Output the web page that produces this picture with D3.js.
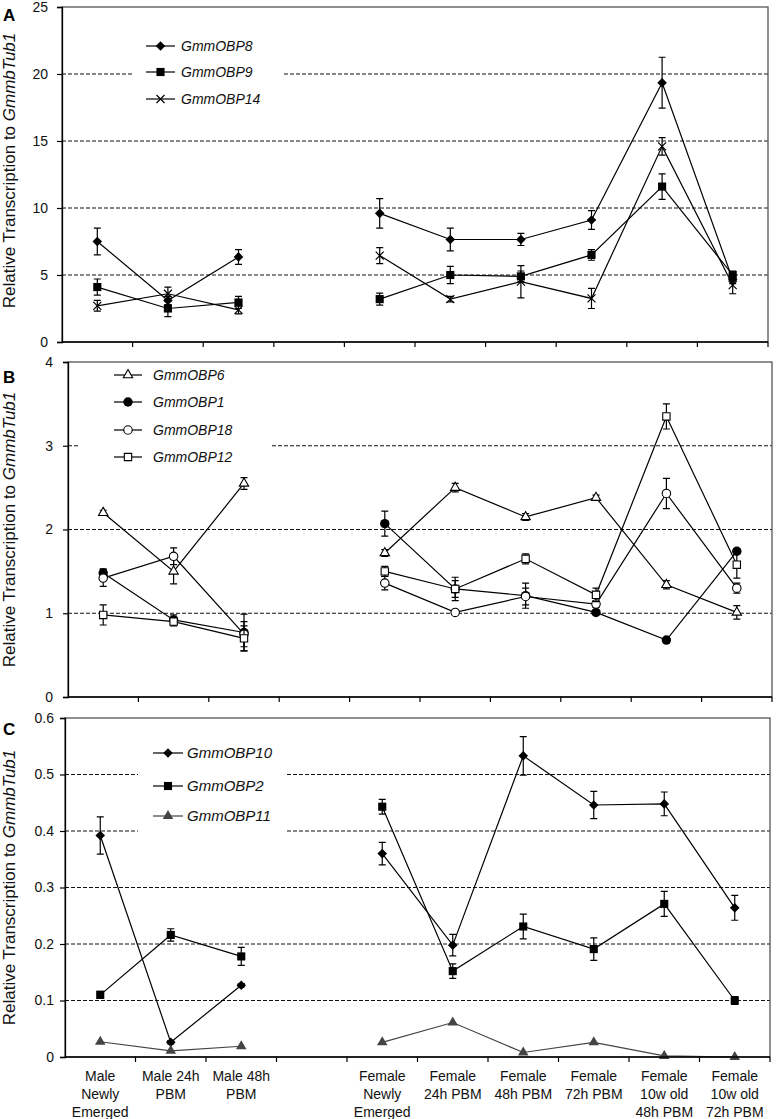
<!DOCTYPE html>
<html><head><meta charset="utf-8">
<script src="https://cdn.jsdelivr.net/npm/d3@7"></script>
<style>body{margin:0;background:#fff}svg{display:block}</style>
</head><body><svg id="chart" width="777" height="1119"></svg>
<script>
// ---------- data ----------
const categories = ["MaleNE","Male24","Male48","gap","FemNE","Fem24","Fem48","Fem72","Fem10w48","Fem10w72"];
const xLabels = [["Male","Newly","Emerged"],["Male 24h","PBM"],["Male 48h","PBM"],[],["Female","Newly","Emerged"],["Female","24h PBM"],["Female","48h PBM"],["Female","72h PBM"],["Female","10w old","48h PBM"],["Female","10w old","72h PBM"]];

// Panel A
const obp8  = [7.5, 3.1, 6.35, null, 9.6, 7.65, 7.65, 9.1, 19.35, 4.65];
const obp8Err = [1.0, 0.3, 0.55, null, 1.1, 0.85, 0.45, 0.7, 1.9, 0.3];
const obp9  = [4.1, 2.5, 2.95, null, 3.2, 5.0, 4.9, 6.5, 11.6, 5.0];
const obp9Err = [0.6, 0.6, 0.45, null, 0.45, 0.65, 0.4, 0.4, 0.95, 0.3];
const obp14 = [2.7, 3.6, 2.4, null, 6.45, 3.2, 4.5, 3.25, 14.6, 4.25];
const obp14Err = [0.4, 0.5, 0.3, null, 0.6, 0.2, 1.2, 0.75, 0.65, 0.65];
const ticksA = [0, 5, 10, 15, 20, 25];

// Panel B
const obp6  = [2.2, 1.5, 2.55, null, 1.72, 2.5, 2.15, 2.38, 1.34, 1.01];
const obp6Err = [0.03, 0.15, 0.07, null, 0.04, 0.05, 0.04, 0.03, 0.05, 0.08];
const obp1  = [1.48, 0.92, 0.77, null, 2.07, 1.29, 1.21, 1.01, 0.68, 1.74];
const obp1Err = [0.05, 0.06, 0.22, null, 0.15, 0.14, 0.15, 0.02, 0.03, 0.03];
const obp18 = [1.42, 1.68, 0.75, null, 1.36, 1.01, 1.2, 1.11, 2.43, 1.3];
const obp18Err = [0.1, 0.1, 0.15, null, 0.08, 0.02, 0.1, 0.04, 0.18, 0.06];
const obp12 = [0.98, 0.9, 0.7, null, 1.5, 1.29, 1.65, 1.22, 3.35, 1.58];
const obp12Err = [0.12, 0.05, 0.15, null, 0.06, 0.1, 0.06, 0.08, 0.15, 0.16];
const ticksB = [0, 1, 2, 3, 4];

// Panel C
const obp10 = [0.392, 0.026, 0.127, null, 0.36, 0.198, 0.533, 0.446, 0.448, 0.264];
const obp10Err = [0.033, 0.003, 0.003, null, 0.02, 0.019, 0.034, 0.024, 0.021, 0.022];
const obp2  = [0.11, 0.216, 0.178, null, 0.443, 0.152, 0.231, 0.191, 0.271, 0.1];
const obp2Err = [0.006, 0.011, 0.016, null, 0.013, 0.013, 0.022, 0.02, 0.022, 0.007];
const obp11 = [0.027, 0.011, 0.019, null, 0.026, 0.061, 0.008, 0.026, 0.002, 0.0];
const ticksC = [0, 0.1, 0.2, 0.3, 0.4, 0.5, 0.6];

// ---------- layout / style ----------
const panels = [
  { letter:"A", letterY:21, l:62, t:7, r:768, b:342, ticks:ticksA, fmt:d=>String(d), pad:9, titleShift:-4,
    series:[
      {name:"GmmOBP8", vals:obp8, err:obp8Err, sym:"diamond", color:"#000"},
      {name:"GmmOBP9", vals:obp9, err:obp9Err, sym:"square", color:"#000"},
      {name:"GmmOBP14", vals:obp14, err:obp14Err, sym:"x", color:"#000"}],
    legend:{x0:132, x1:283, y0:33, y1:112, ys:[46,72,99], lx0:146, lx1:175, tx:181, fs:14}},
  { letter:"B", letterY:383, l:68, t:362, r:772, b:697, ticks:ticksB, fmt:d=>String(d), pad:10, titleShift:0,
    series:[
      {name:"GmmOBP6", vals:obp6, err:obp6Err, sym:"triOpen", color:"#000"},
      {name:"GmmOBP1", vals:obp1, err:obp1Err, sym:"circle", color:"#000"},
      {name:"GmmOBP18", vals:obp18, err:obp18Err, sym:"circleOpen", color:"#000"},
      {name:"GmmOBP12", vals:obp12, err:obp12Err, sym:"squareOpen", color:"#000"}],
    legend:{x0:80, x1:270, y0:364, y1:468, ys:[375,402,430,457], lx0:114, lx1:142, tx:153, fs:14}},
  { letter:"C", letterY:735, l:65, t:718, r:770, b:1057, ticks:ticksC, fmt:d=>d===0?"0":d3.format(".1f")(d), pad:6, titleShift:0,
    series:[
      {name:"GmmOBP10", vals:obp10, err:obp10Err, sym:"diamond", color:"#000"},
      {name:"GmmOBP2", vals:obp2, err:obp2Err, sym:"square", color:"#000"},
      {name:"GmmOBP11", vals:obp11, err:null, sym:"triangle", color:"#444"}],
    legend:{x0:138, x1:287, y0:737, y1:834, ys:[753,786,816], lx0:153, lx1:183, tx:187, fs:15}}
];

const svg = d3.select("#chart");
const font = "Liberation Sans, Arial, Helvetica, sans-serif";

function drawSymbol(g, type, x, y, color) {
  const s = g.append("path").attr("transform", `translate(${x},${y})`);
  if (type === "diamond") {
    s.attr("d", d3.symbol(d3.symbolSquare, 46)()).attr("transform", `translate(${x},${y}) rotate(45)`).attr("fill", color);
  } else if (type === "square") {
    s.attr("d", d3.symbol(d3.symbolSquare, 66)()).attr("fill", color);
  } else if (type === "squareOpen") {
    s.attr("d", d3.symbol(d3.symbolSquare, 54)()).attr("fill", "#fff").attr("stroke", color).attr("stroke-width", 1.1);
  } else if (type === "circle") {
    s.attr("d", d3.symbol(d3.symbolCircle, 70)()).attr("fill", color);
  } else if (type === "circleOpen") {
    s.attr("d", d3.symbol(d3.symbolCircle, 56)()).attr("fill", "#fff").attr("stroke", color).attr("stroke-width", 1.1);
  } else if (type === "triOpen") {
    s.attr("d", d3.symbol(d3.symbolTriangle, 38)()).attr("fill", "#fff").attr("stroke", color).attr("stroke-width", 1.1);
  } else if (type === "triangle") {
    s.attr("d", d3.symbol(d3.symbolTriangle, 48)()).attr("fill", color);
  } else if (type === "x") {
    s.attr("d", "M-4,-4L4,4M-4,4L4,-4").attr("fill", "none").attr("stroke", color).attr("stroke-width", 1.2);
  }
}

panels.forEach((p, pi) => {
  const g = svg.append("g");
  const x = d3.scaleBand().domain(categories).range([p.l, p.r]).padding(0);
  const y = d3.scaleLinear().domain([p.ticks[0], p.ticks[p.ticks.length-1]]).range([p.b, p.t]);
  const cx = c => x(c) + x.bandwidth()/2;

  // gridlines
  g.selectAll("line.grid").data(p.ticks.slice(1, -1)).join("line")
    .attr("x1", p.l).attr("x2", p.r).attr("y1", d => y(d)).attr("y2", d => y(d))
    .attr("stroke", "#111").attr("stroke-width", 1).attr("stroke-dasharray", "4,2");

  // legend background
  const L = p.legend;
  g.append("rect").attr("x", L.x0).attr("y", L.y0).attr("width", L.x1 - L.x0).attr("height", L.y1 - L.y0).attr("fill", "#fff");

  // frame
  g.append("rect").attr("x", p.l).attr("y", p.t).attr("width", p.r - p.l).attr("height", p.b - p.t)
    .attr("fill", "none").attr("stroke", "#555").attr("stroke-width", 1.3);

  // series
  p.series.forEach(s => {
    const pts = categories.map((c, i) => ({c, v: s.vals[i], e: s.err ? s.err[i] : null}));
    const line = d3.line().defined(d => d.v !== null).x(d => cx(d.c)).y(d => y(d.v));
    g.append("path").attr("d", line(pts)).attr("fill", "none").attr("stroke", s.color).attr("stroke-width", 1.2);
    pts.filter(d => d.v !== null && d.e).forEach(d => {
      const xx = cx(d.c), y1 = y(d.v + d.e), y0 = y(d.v - d.e);
      g.append("path").attr("d", `M${xx},${y0}V${y1}M${xx-3.5},${y0}H${xx+3.5}M${xx-3.5},${y1}H${xx+3.5}`)
        .attr("stroke", s.color).attr("stroke-width", 1.2).attr("fill", "none");
    });
    pts.filter(d => d.v !== null).forEach(d => drawSymbol(g, s.sym, cx(d.c), y(d.v), s.color));
  });

  // legend entries
  p.series.forEach((s, i) => {
    const ly = L.ys[i];
    g.append("line").attr("x1", L.lx0).attr("x2", L.lx1).attr("y1", ly).attr("y2", ly).attr("stroke", s.color).attr("stroke-width", 1.2);
    drawSymbol(g, s.sym, (L.lx0 + L.lx1)/2, ly, s.color);
    g.append("text").attr("x", L.tx).attr("y", ly).attr("dy", "0.35em").attr("font-family", font)
      .attr("font-size", L.fs).attr("font-style", "italic").attr("fill", "#111").text(s.name);
  });

  // y axis
  const ya = d3.axisLeft(y).tickValues(p.ticks).tickFormat(p.fmt).tickSize(5).tickPadding(p.pad);
  const yg = g.append("g").attr("transform", `translate(${p.l},0)`).call(ya);
  yg.select(".domain").attr("stroke", "#000").attr("stroke-width", 1.3);
  yg.selectAll(".tick line").attr("stroke", "#000").attr("stroke-width", 1.2);
  yg.selectAll(".tick text").attr("font-family", font).attr("font-size", 14).attr("fill", "#111");

  // x axis: ticks at category boundaries
  const bounds = categories.map(c => x(c) + x.bandwidth());
  g.append("line").attr("x1", p.l).attr("x2", p.r).attr("y1", p.b).attr("y2", p.b).attr("stroke", "#000").attr("stroke-width", 1.3);
  g.selectAll("line.xt").data(bounds).join("line")
    .attr("x1", d => d).attr("x2", d => d).attr("y1", p.b).attr("y2", p.b + 5)
    .attr("stroke", "#000").attr("stroke-width", 1.2);

  // panel letter
  g.append("text").attr("x", 3).attr("y", p.letterY).attr("font-family", font).attr("font-weight", "bold")
    .attr("font-size", 17).attr("fill", "#000").text(p.letter);

  // y title
  const yt = g.append("text").attr("transform", `translate(15,${(p.t + p.b)/2 + p.titleShift}) rotate(-90)`)
    .attr("text-anchor", "middle").attr("font-family", font).attr("font-size", 17).attr("fill", "#111");
  yt.append("tspan").text("Relative Transcription to ");
  yt.append("tspan").attr("font-style", "italic").text("GmmbTub1");

  // x labels (bottom panel only)
  if (pi === panels.length - 1) {
    categories.forEach((c, i) => {
      const t = g.append("text").attr("x", cx(c)).attr("y", p.b + 24).attr("text-anchor", "middle")
        .attr("font-family", font).attr("font-size", 14).attr("fill", "#111");
      xLabels[i].forEach((ln, j) => t.append("tspan").attr("x", cx(c)).attr("dy", j === 0 ? 0 : 18).text(ln));
    });
  }
});
</script></body></html>
